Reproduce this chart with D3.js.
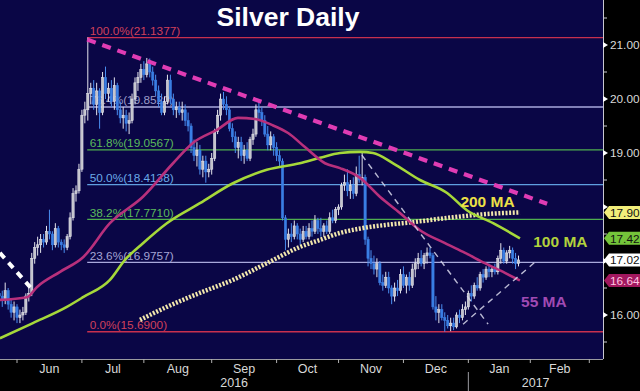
<!DOCTYPE html>
<html><head><meta charset="utf-8">
<script src="https://cdn.jsdelivr.net/npm/d3@7"></script>
<style>html,body{margin:0;padding:0;background:#000;}svg{display:block}</style>
</head><body>
<svg id="c" width="640" height="391"></svg>
<script>
// ---------- data ----------
const chartTitle = "Silver Daily";
const startDate = "2016-05-24";
const endDate = "2017-03-03";
const holidays = ["2017-01-02"];
// [open, high, low, close] per trading day from startDate
const ohlc = [
[16.40,16.55,16.25,16.35],[16.35,16.45,16.15,16.30],[16.30,16.60,16.20,16.45],[16.45,16.50,16.10,16.20],
[16.20,16.30,15.95,16.05],[16.05,16.25,15.90,16.15],[16.15,16.20,15.85,15.95],[15.95,16.10,15.85,16.00],
[16.00,16.15,15.90,16.05],[16.05,16.40,16.00,16.35],[16.35,16.50,16.25,16.40],[16.40,17.15,16.35,17.05],
[17.05,17.35,16.95,17.25],[17.25,17.45,17.10,17.30],[17.30,17.50,17.15,17.40],[17.40,17.50,17.25,17.35],
[17.35,17.65,17.30,17.55],[17.55,17.95,17.40,17.50],[17.50,17.55,17.20,17.30],[17.30,17.70,17.25,17.60],
[17.60,17.65,17.25,17.35],[17.35,17.40,17.20,17.30],[17.30,17.40,17.15,17.25],[17.25,17.50,17.20,17.45],
[17.45,17.90,17.40,17.80],[17.80,18.35,17.75,18.25],[18.25,18.40,18.10,18.30],[18.30,18.80,18.25,18.70],
[18.70,19.80,18.65,19.70],[19.70,19.95,19.55,19.80],[19.80,21.14,19.60,20.10],[20.10,20.30,19.90,20.20],
[20.20,20.35,19.80,19.90],[19.90,20.30,19.70,20.15],[20.15,20.20,19.45,19.75],[19.75,20.50,19.70,20.40],
[20.40,20.60,20.00,20.10],[20.10,20.30,19.95,20.20],[20.20,20.35,19.85,19.95],[19.95,20.40,19.80,20.25],
[20.25,20.30,19.70,19.80],[19.80,19.95,19.55,19.65],[19.65,19.85,19.45,19.70],[19.70,19.80,19.40,19.55],
[19.55,19.75,19.35,19.60],[19.60,20.10,19.55,20.00],[20.00,20.40,19.90,20.30],[20.30,20.50,20.15,20.40],
[20.40,20.65,20.30,20.55],[20.55,20.70,20.35,20.45],[20.45,20.76,20.40,20.65],[20.65,20.75,20.40,20.50],
[20.50,20.60,20.25,20.35],[20.35,20.45,20.05,20.15],[20.15,20.25,19.85,19.95],[19.95,20.10,19.70,19.75],
[19.75,20.05,19.70,19.95],[19.95,20.45,19.90,20.35],[20.35,20.45,19.90,20.00],[20.00,20.10,19.70,19.80],
[19.80,19.95,19.65,19.85],[19.85,19.95,19.70,19.75],[19.75,19.95,19.60,19.80],[19.80,19.90,19.50,19.60],
[19.60,19.75,19.40,19.50],[19.50,19.55,19.00,19.10],[19.10,19.25,18.85,18.95],[18.95,19.20,18.75,19.05],
[19.05,19.15,18.60,18.70],[18.70,18.95,18.55,18.85],[18.85,18.95,18.45,18.65],[18.65,18.80,18.55,18.70],
[18.70,19.00,18.60,18.90],[18.90,19.45,18.85,19.40],[19.40,19.80,19.35,19.70],[19.70,20.10,19.60,20.00],
[20.00,20.13,19.80,19.90],[19.90,20.05,19.70,19.80],[19.80,19.85,19.40,19.45],[19.45,19.55,19.20,19.30],
[19.30,19.40,19.00,19.10],[19.10,19.30,18.90,19.20],[19.20,19.30,18.85,18.95],[18.95,19.15,18.80,19.05],
[19.05,19.20,18.85,18.90],[18.90,19.30,18.85,19.25],[19.25,19.45,19.15,19.35],[19.35,19.90,19.30,19.80],
[19.80,19.95,19.60,19.75],[19.75,19.85,19.50,19.60],[19.60,19.70,19.30,19.35],[19.35,19.50,19.05,19.15],
[19.15,19.40,19.05,19.30],[19.30,19.35,18.95,19.10],[19.10,19.20,18.85,18.95],[18.95,19.05,18.75,18.85],
[18.85,18.90,17.75,17.80],[17.80,17.85,17.20,17.40],[17.40,17.60,17.25,17.50],[17.50,17.70,17.35,17.45],
[17.45,17.75,17.40,17.65],[17.65,17.70,17.40,17.50],[17.50,17.60,17.30,17.40],[17.40,17.65,17.35,17.55],
[17.55,17.65,17.40,17.45],[17.45,17.70,17.40,17.60],[17.60,17.75,17.45,17.55],[17.55,17.85,17.50,17.75],
[17.75,17.80,17.50,17.60],[17.60,17.80,17.45,17.55],[17.55,17.70,17.45,17.65],[17.65,17.75,17.50,17.55],
[17.55,17.90,17.50,17.80],[17.80,17.95,17.70,17.75],[17.75,18.00,17.70,17.95],[17.95,18.05,17.85,18.00],
[18.00,18.45,17.95,18.40],[18.40,18.60,18.30,18.45],[18.45,18.70,18.20,18.30],[18.30,18.50,18.15,18.40],
[18.40,18.55,18.15,18.25],[18.25,18.75,18.20,18.60],[18.60,18.95,18.45,18.50],[18.50,19.00,18.40,18.55],
[18.55,18.60,17.30,17.40],[17.40,17.45,16.90,17.05],[17.05,17.20,16.85,16.95],[16.95,17.10,16.75,16.85],
[16.85,17.05,16.70,16.95],[16.95,17.00,16.55,16.60],[16.60,16.75,16.45,16.55],[16.55,16.80,16.50,16.70],
[16.70,16.80,16.40,16.50],[16.50,16.55,16.20,16.35],[16.35,16.60,16.25,16.50],[16.50,16.65,16.35,16.45],
[16.45,16.85,16.40,16.75],[16.75,16.90,16.50,16.55],[16.55,16.75,16.40,16.70],[16.70,16.80,16.45,16.55],
[16.55,16.95,16.50,16.85],[16.85,17.05,16.70,16.95],[16.95,17.15,16.85,17.05],[17.05,17.20,16.90,16.95],
[16.95,17.15,16.85,17.10],[17.10,17.25,16.95,17.15],[17.15,17.25,17.05,17.10],[17.10,17.15,16.10,16.15],
[16.15,16.35,15.90,16.05],[16.05,16.20,15.85,16.10],[16.10,16.20,15.90,15.95],[15.95,16.05,15.69,15.90],
[15.90,16.00,15.75,15.80],[15.80,15.95,15.70,15.85],[15.85,15.95,15.72,15.78],[15.78,16.05,15.75,16.00],
[16.00,16.10,15.85,15.95],[15.95,16.20,15.90,16.10],[16.10,16.25,16.00,16.15],[16.15,16.45,16.10,16.40],
[16.40,16.55,16.25,16.35],[16.35,16.60,16.30,16.55],[16.55,16.70,16.45,16.50],[16.50,16.80,16.45,16.75],
[16.75,16.85,16.60,16.70],[16.70,16.90,16.65,16.85],[16.85,16.95,16.70,16.80],[16.80,16.90,16.70,16.85],
[16.85,16.95,16.75,16.80],[16.80,17.10,16.75,17.05],[17.05,17.33,16.95,17.20],[17.20,17.25,16.95,17.00],
[17.00,17.20,16.95,17.15],[17.15,17.28,17.05,17.20],[17.20,17.25,16.95,17.05],[17.05,17.15,16.85,16.95],
[16.95,17.10,16.90,17.02]
];
// moving averages: [trading-day index, value]
const ma55 = [[0.2,16.28],[9.4,16.33],[12.8,16.52],[20.6,16.80],[28.4,17.07],[37.5,17.70],[48.7,18.19],
[58.9,18.81],[65.7,19.19],[73.8,19.43],[80.9,19.65],[86.7,19.63],[92.4,19.52],[97.9,19.37],[103.6,19.11],
[110.4,18.81],[115.5,18.72],[122.3,18.54],[129,18.19],[135.8,17.89],[142.6,17.57],[151.1,17.33],
[157.9,17.15],[164.6,16.96],[171.4,16.78],[176.5,16.64]];
const ma100 = [[0.2,15.57],[11.4,15.85],[22.9,16.15],[28.4,16.33],[37.5,16.65],[42.6,17.02],[48.7,17.33],
[56.8,17.70],[68,18.07],[79.2,18.44],[90.7,18.69],[101.9,18.81],[108.7,18.91],[115.5,19.00],[122.3,19.02],
[126.7,19.00],[133.5,18.81],[142.6,18.50],[151.8,18.26],[158.5,17.94],[167.4,17.70],[176.5,17.42]];
const ma200 = [[47.7,15.91],[56.8,16.15],[68,16.41],[79.2,16.65],[90.7,16.96],[101.9,17.26],[108.7,17.39],
[115.5,17.52],[123.3,17.61],[131.4,17.67],[140.2,17.72],[153.8,17.81],[165.3,17.87],[176.5,17.90]];
const maNames = ["55 MA","100 MA","200 MA"];
// Fibonacci retracement
const fibPct = ["100.0%","76.4%","61.8%","50.0%","38.2%","23.6%","0.0%"];
const fibValues = [21.1377,19.8520,19.0567,18.4138,17.7710,16.9757,15.6900];
const fibStartIdx = 29.8;
// trend lines [index, price]
const downTrend = [[29.8,21.10],[185.7,18.06]];
const mayTrend = [[0.2,17.15],[11.4,16.46]];
const channelDown = [[122.9,18.96],[165.7,15.83]];
const channelUp = [[157.2,15.83],[181.6,16.98]];
// last-value tags
const tagValues = [17.90,17.42,17.02,16.64];
// axis
const yLabelTicks = [21,20,19,16];
const yMinorTicks = [15.5,16.5,17.5,18.5,19.5,20.5,21.5];
const yAllMajor = [16,17,18,19,20,21];

// ---------- layout ----------
const W = 640, H = 391, PR = 603, PB = 359;
const svg = d3.select("#c");
svg.append("rect").attr("width",W).attr("height",H).attr("fill","#000");
svg.append("rect").attr("x",0).attr("y",0).attr("width",PR).attr("height",PB).attr("fill","#0a0646");
svg.append("defs").append("clipPath").attr("id","plot").append("rect").attr("x",0).attr("y",0).attr("width",PR).attr("height",PB);

// calendar of trading days
const parse = d3.utcParse("%Y-%m-%d"), fmt = d3.utcFormat("%Y-%m-%d");
const hol = new Set(holidays);
const days = d3.utcDays(parse(startDate), d3.utcDay.offset(parse(endDate),1))
  .filter(d => d.getUTCDay()!==0 && d.getUTCDay()!==6 && !hol.has(fmt(d)));

const x = d3.scaleLinear().domain([0, days.length-1]).range([-0.7, -0.7 + 2.95*(days.length-1)]);
const y = d3.scaleLinear().domain([16,21]).range([315,45]);

const g = svg.append("g").attr("clip-path","url(#plot)");

// fib lines
const fibColors = ["#c8304e","#a9a9dc","#4fae4f","#5f9fe0","#4fae4f","#a9a9dc","#c8304e"];
const fibText = ["#d0405a","#9c9cc8","#5cba5c","#6aaae8","#5cba5c","#a4a4d4","#d0405a"];
fibValues.forEach((v,i)=>{
  g.append("line").attr("x1",x(fibStartIdx)).attr("x2",PR).attr("y1",y(v)).attr("y2",y(v))
    .attr("stroke",fibColors[i]).attr("stroke-width",1.3);
  g.append("text").attr("x",x(fibStartIdx)+2.5).attr("y",y(v)-2.5)
    .attr("fill",fibText[i]).attr("font-family","Liberation Sans, Arial, sans-serif").attr("font-size",11.8)
    .text(`${fibPct[i]}(${v.toFixed(4)})`);
});

// candles
const cw = 2.3;
ohlc.forEach((d,i)=>{
  const [o,h,l,c] = d, up = c>=o;
  const cx = x(i);
  g.append("line").attr("x1",cx).attr("x2",cx).attr("y1",y(h)).attr("y2",y(l))
    .attr("stroke", up?"#e4e4ec":"#4a8ef0").attr("stroke-width",1);
  const top = y(Math.max(o,c)), bot = y(Math.min(o,c));
  g.append("rect").attr("x",cx-cw/2).attr("y",top).attr("width",cw).attr("height",Math.max(1,bot-top))
    .attr("fill", up?"#c4c4cc":"#3a7ee4").attr("stroke", up?"#ececf2":"#3a7ee4").attr("stroke-width",0.5);
});

// moving averages
const line = d3.line().x(d=>x(d[0])).y(d=>y(d[1])).curve(d3.curveMonotoneX);
g.append("path").attr("d",line(ma200)).attr("fill","none").attr("stroke","#f2e7ac")
  .attr("stroke-width",4.5).attr("stroke-dasharray","2,1.6");
g.append("path").attr("d",line(ma100)).attr("fill","none").attr("stroke","#a6d83a").attr("stroke-width",2.6);
g.append("path").attr("d",line(ma55)).attr("fill","none").attr("stroke","#b8307c").attr("stroke-width",2.6);

// trend lines
const sline = d3.line().x(d=>x(d[0])).y(d=>y(d[1]));
g.append("path").attr("d",sline(downTrend)).attr("stroke","#e03cb4").attr("stroke-width",4.2)
  .attr("stroke-dasharray","9,7").attr("fill","none");
g.append("path").attr("d",sline(mayTrend)).attr("stroke","#ffffff").attr("stroke-width",4)
  .attr("stroke-dasharray","7,6").attr("fill","none");
[channelDown, channelUp].forEach(t=>{
  g.append("path").attr("d",sline(t)).attr("stroke","#d8d8ec").attr("stroke-width",1.4)
    .attr("stroke-dasharray","6,5").attr("fill","none").attr("opacity",0.85);
});

// MA labels
const maLabelPos = [[184.6,16.15],[190.2,17.26],[165.5,18.0]];
const maLabelColor = ["#a04ab4","#b2d23c","#ece046"];
maNames.forEach((n,i)=>{
  g.append("text").attr("x",x(maLabelPos[i][0])).attr("y",y(maLabelPos[i][1])).attr("text-anchor","middle")
    .attr("font-family","Liberation Sans, Arial, sans-serif").attr("font-weight","bold").attr("font-size",15.5)
    .attr("fill",maLabelColor[i]).text(n);
});

// title
svg.append("text").attr("x",288).attr("y",26).attr("text-anchor","middle")
  .attr("font-family","Liberation Sans, Arial, sans-serif").attr("font-weight","bold").attr("font-size",26.5)
  .attr("fill","#ffffff").text(chartTitle);

// right axis
svg.append("line").attr("x1",PR+0.5).attr("x2",PR+0.5).attr("y1",0).attr("y2",PB).attr("stroke","#c8c8d0").attr("stroke-width",1);
yMinorTicks.forEach(v=>{
  svg.append("line").attr("x1",PR).attr("x2",PR+4).attr("y1",y(v)).attr("y2",y(v)).attr("stroke","#c8c8d0");
});
yAllMajor.forEach(v=>{
  svg.append("path").attr("d",`M${PR},${y(v)-3}L${PR+5},${y(v)}L${PR},${y(v)+3}Z`).attr("fill","#ffffff");
});
yLabelTicks.forEach(v=>{
  svg.append("text").attr("x",PR+7).attr("y",y(v)).attr("dy","0.36em")
    .attr("font-family","Liberation Sans, Arial, sans-serif").attr("font-size",11.8).attr("fill","#d8d8d8")
    .text(v.toFixed(2));
});
// tags
const tagFill = ["#f2ee7a","#74c43a","#ffffff","#a2185e"];
const tagText = ["#111","#111","#111","#ffc4e2"];
tagValues.forEach((v,i)=>{
  const yc = y(v);
  svg.append("path").attr("d",`M${PR+1},${yc}L${PR+6},${yc-6.5}L${W},${yc-6.5}L${W},${yc+6.5}L${PR+6},${yc+6.5}Z`)
    .attr("fill",tagFill[i]);
  svg.append("text").attr("x",PR+7).attr("y",yc).attr("dy","0.36em")
    .attr("font-family","Liberation Sans, Arial, sans-serif").attr("font-size",11.8).attr("fill",tagText[i])
    .text(v.toFixed(2));
});

// bottom axis
svg.append("line").attr("x1",0).attr("x2",PR).attr("y1",PB+0.5).attr("y2",PB+0.5).attr("stroke","#9a9aa0");
const monthStarts = [];
days.forEach((d,i)=>{ if(i>0 && d.getUTCMonth()!==days[i-1].getUTCMonth()) monthStarts.push(i); });
monthStarts.forEach(i=>{
  svg.append("line").attr("x1",x(i)).attr("x2",x(i)).attr("y1",PB).attr("y2",PB+4).attr("stroke","#b0b0b0");
});
const mfmt = d3.utcFormat("%b");
for(let k=0;k<monthStarts.length-1;k++){
  const a = monthStarts[k], b = monthStarts[k+1];
  svg.append("text").attr("x",(x(a)+x(b))/2).attr("y",373).attr("text-anchor","middle")
    .attr("font-family","Liberation Sans, Arial, sans-serif").attr("font-size",12.5).attr("fill","#d8d8d8")
    .text(mfmt(days[a]));
}
// year labels
const yearStart = monthStarts.find(i=>days[i].getUTCFullYear()===2017);
svg.append("line").attr("x1",x(yearStart)).attr("x2",x(yearStart)).attr("y1",372).attr("y2",H).attr("stroke","#9a9aa0");
[[0,x(yearStart),"2016"],[x(yearStart),PR,"2017"]].forEach(([a,b,t])=>{
  svg.append("text").attr("x",(a+b)/2).attr("y",387).attr("text-anchor","middle")
    .attr("font-family","Liberation Sans, Arial, sans-serif").attr("font-size",12.5).attr("fill","#d8d8d8").text(t);
});
</script>
</body></html>
